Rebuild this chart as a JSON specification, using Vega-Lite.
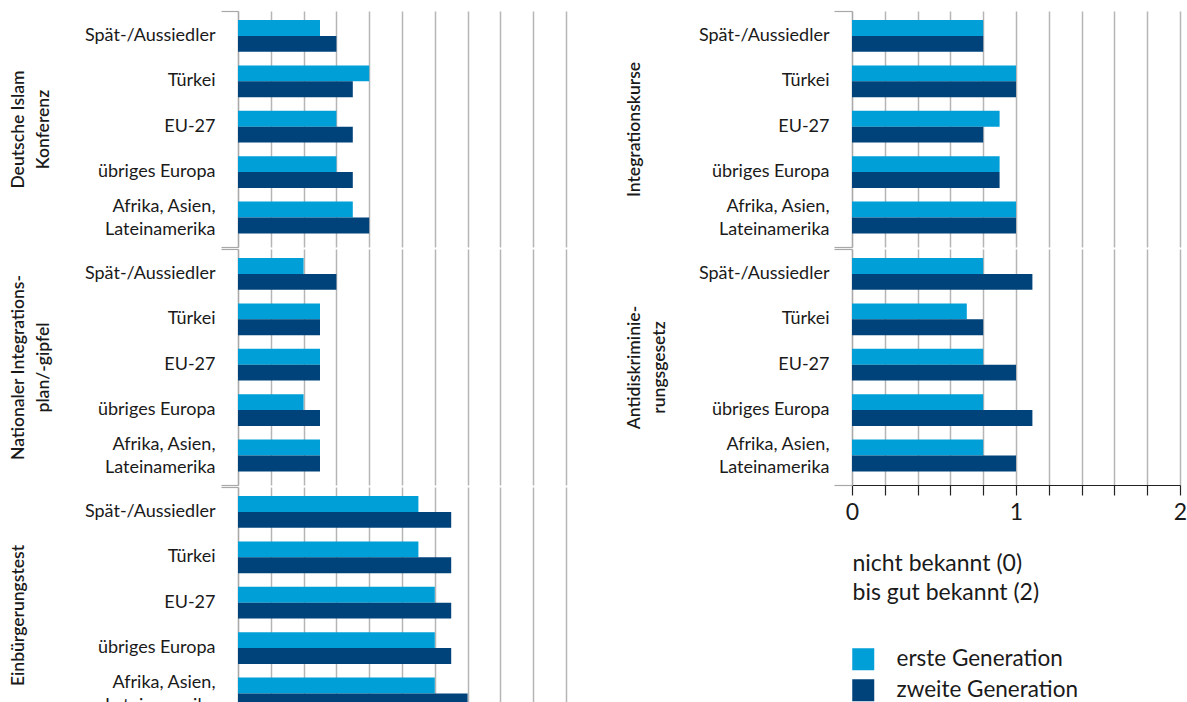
{
  "$schema": "https://vega.github.io/schema/vega-lite/v6.json",
  "padding": {"left": 9, "top": 10, "right": 0, "bottom": 0},
  "autosize": {"type": "pad"},
  "background": "white",
  "data": {"values": [
    {"group": "Deutsche Islam Konferenz", "origin": "Spät-/Aussiedler", "generation": "erste Generation", "value": 0.5},
    {"group": "Deutsche Islam Konferenz", "origin": "Spät-/Aussiedler", "generation": "zweite Generation", "value": 0.6},
    {"group": "Deutsche Islam Konferenz", "origin": "Türkei", "generation": "erste Generation", "value": 0.8},
    {"group": "Deutsche Islam Konferenz", "origin": "Türkei", "generation": "zweite Generation", "value": 0.7},
    {"group": "Deutsche Islam Konferenz", "origin": "EU-27", "generation": "erste Generation", "value": 0.6},
    {"group": "Deutsche Islam Konferenz", "origin": "EU-27", "generation": "zweite Generation", "value": 0.7},
    {"group": "Deutsche Islam Konferenz", "origin": "übriges Europa", "generation": "erste Generation", "value": 0.6},
    {"group": "Deutsche Islam Konferenz", "origin": "übriges Europa", "generation": "zweite Generation", "value": 0.7},
    {"group": "Deutsche Islam Konferenz", "origin": "Afrika, Asien, Lateinamerika", "generation": "erste Generation", "value": 0.7},
    {"group": "Deutsche Islam Konferenz", "origin": "Afrika, Asien, Lateinamerika", "generation": "zweite Generation", "value": 0.8},
    {"group": "Nationaler Integrationsplan/-gipfel", "origin": "Spät-/Aussiedler", "generation": "erste Generation", "value": 0.4},
    {"group": "Nationaler Integrationsplan/-gipfel", "origin": "Spät-/Aussiedler", "generation": "zweite Generation", "value": 0.6},
    {"group": "Nationaler Integrationsplan/-gipfel", "origin": "Türkei", "generation": "erste Generation", "value": 0.5},
    {"group": "Nationaler Integrationsplan/-gipfel", "origin": "Türkei", "generation": "zweite Generation", "value": 0.5},
    {"group": "Nationaler Integrationsplan/-gipfel", "origin": "EU-27", "generation": "erste Generation", "value": 0.5},
    {"group": "Nationaler Integrationsplan/-gipfel", "origin": "EU-27", "generation": "zweite Generation", "value": 0.5},
    {"group": "Nationaler Integrationsplan/-gipfel", "origin": "übriges Europa", "generation": "erste Generation", "value": 0.4},
    {"group": "Nationaler Integrationsplan/-gipfel", "origin": "übriges Europa", "generation": "zweite Generation", "value": 0.5},
    {"group": "Nationaler Integrationsplan/-gipfel", "origin": "Afrika, Asien, Lateinamerika", "generation": "erste Generation", "value": 0.5},
    {"group": "Nationaler Integrationsplan/-gipfel", "origin": "Afrika, Asien, Lateinamerika", "generation": "zweite Generation", "value": 0.5},
    {"group": "Einbürgerungstest", "origin": "Spät-/Aussiedler", "generation": "erste Generation", "value": 1.1},
    {"group": "Einbürgerungstest", "origin": "Spät-/Aussiedler", "generation": "zweite Generation", "value": 1.3},
    {"group": "Einbürgerungstest", "origin": "Türkei", "generation": "erste Generation", "value": 1.1},
    {"group": "Einbürgerungstest", "origin": "Türkei", "generation": "zweite Generation", "value": 1.3},
    {"group": "Einbürgerungstest", "origin": "EU-27", "generation": "erste Generation", "value": 1.2},
    {"group": "Einbürgerungstest", "origin": "EU-27", "generation": "zweite Generation", "value": 1.3},
    {"group": "Einbürgerungstest", "origin": "übriges Europa", "generation": "erste Generation", "value": 1.2},
    {"group": "Einbürgerungstest", "origin": "übriges Europa", "generation": "zweite Generation", "value": 1.3},
    {"group": "Einbürgerungstest", "origin": "Afrika, Asien, Lateinamerika", "generation": "erste Generation", "value": 1.2},
    {"group": "Einbürgerungstest", "origin": "Afrika, Asien, Lateinamerika", "generation": "zweite Generation", "value": 1.4},
    {"group": "Integrationskurse", "origin": "Spät-/Aussiedler", "generation": "erste Generation", "value": 0.8},
    {"group": "Integrationskurse", "origin": "Spät-/Aussiedler", "generation": "zweite Generation", "value": 0.8},
    {"group": "Integrationskurse", "origin": "Türkei", "generation": "erste Generation", "value": 1.0},
    {"group": "Integrationskurse", "origin": "Türkei", "generation": "zweite Generation", "value": 1.0},
    {"group": "Integrationskurse", "origin": "EU-27", "generation": "erste Generation", "value": 0.9},
    {"group": "Integrationskurse", "origin": "EU-27", "generation": "zweite Generation", "value": 0.8},
    {"group": "Integrationskurse", "origin": "übriges Europa", "generation": "erste Generation", "value": 0.9},
    {"group": "Integrationskurse", "origin": "übriges Europa", "generation": "zweite Generation", "value": 0.9},
    {"group": "Integrationskurse", "origin": "Afrika, Asien, Lateinamerika", "generation": "erste Generation", "value": 1.0},
    {"group": "Integrationskurse", "origin": "Afrika, Asien, Lateinamerika", "generation": "zweite Generation", "value": 1.0},
    {"group": "Antidiskriminierungsgesetz", "origin": "Spät-/Aussiedler", "generation": "erste Generation", "value": 0.8},
    {"group": "Antidiskriminierungsgesetz", "origin": "Spät-/Aussiedler", "generation": "zweite Generation", "value": 1.1},
    {"group": "Antidiskriminierungsgesetz", "origin": "Türkei", "generation": "erste Generation", "value": 0.7},
    {"group": "Antidiskriminierungsgesetz", "origin": "Türkei", "generation": "zweite Generation", "value": 0.8},
    {"group": "Antidiskriminierungsgesetz", "origin": "EU-27", "generation": "erste Generation", "value": 0.8},
    {"group": "Antidiskriminierungsgesetz", "origin": "EU-27", "generation": "zweite Generation", "value": 1.0},
    {"group": "Antidiskriminierungsgesetz", "origin": "übriges Europa", "generation": "erste Generation", "value": 0.8},
    {"group": "Antidiskriminierungsgesetz", "origin": "übriges Europa", "generation": "zweite Generation", "value": 1.1},
    {"group": "Antidiskriminierungsgesetz", "origin": "Afrika, Asien, Lateinamerika", "generation": "erste Generation", "value": 0.8},
    {"group": "Antidiskriminierungsgesetz", "origin": "Afrika, Asien, Lateinamerika", "generation": "zweite Generation", "value": 1.0}
  ]},
  "spacing": 59,
  "hconcat": [
    {
      "spacing": 0,
      "vconcat": [
        {
          "width": 328, "height": 236,
          "transform": [{"filter": "datum.group == 'Deutsche Islam Konferenz'"}],
          "layer": [
            {
              "mark": {"type": "bar"},
              "encoding": {
                "y": {"field": "origin", "type": "nominal", "sort": ["Spät-/Aussiedler", "Türkei", "EU-27", "übriges Europa", "Afrika, Asien, Lateinamerika"], "scale": {"paddingInner": 0.3, "paddingOuter": 0.25, "align": 0.4},
                  "axis": {"title": ["Deutsche Islam", "Konferenz"], "labelExpr": "datum.label == 'Afrika, Asien, Lateinamerika' ? ['Afrika, Asien,', 'Lateinamerika'] : datum.label", "labelOffset": {"condition": {"test": "datum.value == 'Afrika, Asien, Lateinamerika'", "value": -11}, "value": 0}, "ticks": false, "labelPadding": 23, "labelLineHeight": 23, "titleX": -229, "titleY": 118, "titleAngle": -90, "titleAlign": "center", "titleBaseline": "top", "titleLineHeight": 25}},
                "yOffset": {"field": "generation", "type": "nominal"},
                "x": {"field": "value", "type": "quantitative", "scale": {"domain": [0, 2]}, "axis": {"values": [0, 0.2, 0.4, 0.6, 0.8, 1, 1.2, 1.4, 1.6, 1.8, 2], "labels": false, "ticks": false, "domain": false, "title": null}},
                "color": {"field": "generation", "type": "nominal", "scale": {"domain": ["erste Generation", "zweite Generation"], "range": ["#009fd8", "#00437a"]},
                  "legend": {"orient": "none", "legendX": 614, "legendY": 637, "title": null, "symbolType": "square", "symbolSize": 484, "labelFontSize": 22.5, "labelOffset": 22, "labelLimit": 0, "rowPadding": 8, "symbolStrokeWidth": 0, "labelColor": "#1a1a1a", "padding": 0}}
              }
            },
            {
              "mark": {"type": "point", "opacity": 0},
              "encoding": {
                "y": {"field": "group", "type": "nominal", "scale": {"type": "band", "paddingInner": 0, "paddingOuter": 0},
                  "axis": {"orient": "left", "labels": false, "domain": false, "title": null, "tickBand": "extent", "tickSize": 17, "grid": false}}
              }
            }
          ],
          "resolve": {"scale": {"y": "independent"}, "axis": {"y": "independent"}}
        },
        {
          "width": 328, "height": 236,
          "transform": [{"filter": "datum.group == 'Nationaler Integrationsplan/-gipfel'"}],
          "layer": [
            {
              "mark": {"type": "bar"},
              "encoding": {
                "y": {"field": "origin", "type": "nominal", "sort": ["Spät-/Aussiedler", "Türkei", "EU-27", "übriges Europa", "Afrika, Asien, Lateinamerika"], "scale": {"paddingInner": 0.3, "paddingOuter": 0.25, "align": 0.4},
                  "axis": {"title": ["Nationaler Integrations-", "plan/-gipfel"], "labelExpr": "datum.label == 'Afrika, Asien, Lateinamerika' ? ['Afrika, Asien,', 'Lateinamerika'] : datum.label", "labelOffset": {"condition": {"test": "datum.value == 'Afrika, Asien, Lateinamerika'", "value": -11}, "value": 0}, "ticks": false, "labelPadding": 23, "labelLineHeight": 23, "titleX": -229, "titleY": 118, "titleAngle": -90, "titleAlign": "center", "titleBaseline": "top", "titleLineHeight": 25}},
                "yOffset": {"field": "generation", "type": "nominal"},
                "x": {"field": "value", "type": "quantitative", "scale": {"domain": [0, 2]}, "axis": {"values": [0, 0.2, 0.4, 0.6, 0.8, 1, 1.2, 1.4, 1.6, 1.8, 2], "labels": false, "ticks": false, "domain": false, "title": null}},
                "color": {"field": "generation", "type": "nominal", "scale": {"domain": ["erste Generation", "zweite Generation"], "range": ["#009fd8", "#00437a"]},
                  "legend": {"orient": "none", "legendX": 614, "legendY": 637, "title": null, "symbolType": "square", "symbolSize": 484, "labelFontSize": 22.5, "labelOffset": 22, "labelLimit": 0, "rowPadding": 8, "symbolStrokeWidth": 0, "labelColor": "#1a1a1a", "padding": 0}}
              }
            },
            {
              "mark": {"type": "point", "opacity": 0},
              "encoding": {
                "y": {"field": "group", "type": "nominal", "scale": {"type": "band", "paddingInner": 0, "paddingOuter": 0},
                  "axis": {"orient": "left", "labels": false, "domain": false, "title": null, "tickBand": "extent", "tickSize": 17, "grid": false}}
              }
            }
          ],
          "resolve": {"scale": {"y": "independent"}, "axis": {"y": "independent"}}
        },
        {
          "width": 328, "height": 236,
          "transform": [{"filter": "datum.group == 'Einbürgerungstest'"}],
          "layer": [
            {
              "mark": {"type": "bar"},
              "encoding": {
                "y": {"field": "origin", "type": "nominal", "sort": ["Spät-/Aussiedler", "Türkei", "EU-27", "übriges Europa", "Afrika, Asien, Lateinamerika"], "scale": {"paddingInner": 0.3, "paddingOuter": 0.25, "align": 0.4},
                  "axis": {"title": "Einbürgerungstest", "labelExpr": "datum.label == 'Afrika, Asien, Lateinamerika' ? ['Afrika, Asien,', 'Lateinamerika'] : datum.label", "labelOffset": {"condition": {"test": "datum.value == 'Afrika, Asien, Lateinamerika'", "value": -11}, "value": 0}, "ticks": false, "labelPadding": 23, "labelLineHeight": 23, "titleX": -229, "titleY": 128, "titleAngle": -90, "titleAlign": "center", "titleBaseline": "top", "titleLineHeight": 25}},
                "yOffset": {"field": "generation", "type": "nominal"},
                "x": {"field": "value", "type": "quantitative", "scale": {"domain": [0, 2]}, "axis": {"values": [0, 0.2, 0.4, 0.6, 0.8, 1, 1.2, 1.4, 1.6, 1.8, 2], "labels": false, "ticks": false, "domain": false, "title": null}},
                "color": {"field": "generation", "type": "nominal", "scale": {"domain": ["erste Generation", "zweite Generation"], "range": ["#009fd8", "#00437a"]},
                  "legend": {"orient": "none", "legendX": 614, "legendY": 637, "title": null, "symbolType": "square", "symbolSize": 484, "labelFontSize": 22.5, "labelOffset": 22, "labelLimit": 0, "rowPadding": 8, "symbolStrokeWidth": 0, "labelColor": "#1a1a1a", "padding": 0}}
              }
            },
            {
              "mark": {"type": "point", "opacity": 0},
              "encoding": {
                "y": {"field": "group", "type": "nominal", "scale": {"type": "band", "paddingInner": 0, "paddingOuter": 0},
                  "axis": {"orient": "left", "labels": false, "domain": false, "title": null, "tickBand": "extent", "tickSize": 17, "grid": false}}
              }
            }
          ],
          "resolve": {"scale": {"y": "independent"}, "axis": {"y": "independent"}}
        }
      ]
    },
    {
      "spacing": 0,
      "vconcat": [
        {
          "width": 328, "height": 236,
          "transform": [{"filter": "datum.group == 'Integrationskurse'"}],
          "layer": [
            {
              "mark": {"type": "bar"},
              "encoding": {
                "y": {"field": "origin", "type": "nominal", "sort": ["Spät-/Aussiedler", "Türkei", "EU-27", "übriges Europa", "Afrika, Asien, Lateinamerika"], "scale": {"paddingInner": 0.3, "paddingOuter": 0.25, "align": 0.4},
                  "axis": {"title": "Integrationskurse", "labelExpr": "datum.label == 'Afrika, Asien, Lateinamerika' ? ['Afrika, Asien,', 'Lateinamerika'] : datum.label", "labelOffset": {"condition": {"test": "datum.value == 'Afrika, Asien, Lateinamerika'", "value": -11}, "value": 0}, "ticks": false, "labelPadding": 23, "labelLineHeight": 23, "titleX": -227, "titleY": 118, "titleAngle": -90, "titleAlign": "center", "titleBaseline": "top", "titleLineHeight": 25}},
                "yOffset": {"field": "generation", "type": "nominal"},
                "x": {"field": "value", "type": "quantitative", "scale": {"domain": [0, 2]}, "axis": {"values": [0, 0.2, 0.4, 0.6, 0.8, 1, 1.2, 1.4, 1.6, 1.8, 2], "labels": false, "ticks": false, "domain": false, "title": null}},
                "color": {"field": "generation", "type": "nominal", "scale": {"domain": ["erste Generation", "zweite Generation"], "range": ["#009fd8", "#00437a"]},
                  "legend": {"orient": "none", "legendX": 614, "legendY": 637, "title": null, "symbolType": "square", "symbolSize": 484, "labelFontSize": 22.5, "labelOffset": 22, "labelLimit": 0, "rowPadding": 8, "symbolStrokeWidth": 0, "labelColor": "#1a1a1a", "padding": 0}}
              }
            },
            {
              "mark": {"type": "point", "opacity": 0},
              "encoding": {
                "y": {"field": "group", "type": "nominal", "scale": {"type": "band", "paddingInner": 0, "paddingOuter": 0},
                  "axis": {"orient": "left", "labels": false, "domain": false, "title": null, "tickBand": "extent", "tickSize": 18, "grid": false}}
              }
            }
          ],
          "resolve": {"scale": {"y": "independent"}, "axis": {"y": "independent"}}
        },
        {
          "width": 328, "height": 236,
          "transform": [{"filter": "datum.group == 'Antidiskriminierungsgesetz'"}],
          "layer": [
            {
              "mark": {"type": "bar"},
              "encoding": {
                "y": {"field": "origin", "type": "nominal", "sort": ["Spät-/Aussiedler", "Türkei", "EU-27", "übriges Europa", "Afrika, Asien, Lateinamerika"], "scale": {"paddingInner": 0.3, "paddingOuter": 0.25, "align": 0.4},
                  "axis": {"title": ["Antidiskriminie-", "rungsgesetz"], "labelExpr": "datum.label == 'Afrika, Asien, Lateinamerika' ? ['Afrika, Asien,', 'Lateinamerika'] : datum.label", "labelOffset": {"condition": {"test": "datum.value == 'Afrika, Asien, Lateinamerika'", "value": -11}, "value": 0}, "ticks": false, "labelPadding": 23, "labelLineHeight": 23, "titleX": -227, "titleY": 118, "titleAngle": -90, "titleAlign": "center", "titleBaseline": "top", "titleLineHeight": 25}},
                "yOffset": {"field": "generation", "type": "nominal"},
                "x": {"field": "value", "type": "quantitative", "scale": {"domain": [0, 2]},
                  "axis": {"values": [0, 0.2, 0.4, 0.6, 0.8, 1, 1.2, 1.4, 1.6, 1.8, 2], "labelExpr": "datum.value == 0 ? '0' : datum.value == 1 ? '1' : datum.value == 2 ? '2' : ''", "labels": true, "ticks": true, "tickSize": 10, "tickColor": "#222222", "tickWidth": 1.2, "domain": true, "domainColor": "#222222", "domainWidth": 1.2, "labelFontSize": 23, "labelPadding": 6, "labelColor": "#1a1a1a", "labelFlush": false,
                    "title": ["nicht bekannt (0)", "bis gut bekannt (2)"], "titleAnchor": "start", "titleAlign": "left", "titleX": 0, "titleY": 67, "titleBaseline": "top", "titleFontSize": 23, "titleFontWeight": "normal", "titleLineHeight": 29, "titleColor": "#1a1a1a"}},
                "color": {"field": "generation", "type": "nominal", "scale": {"domain": ["erste Generation", "zweite Generation"], "range": ["#009fd8", "#00437a"]},
                  "legend": {"orient": "none", "legendX": 614, "legendY": 637, "title": null, "symbolType": "square", "symbolSize": 484, "labelFontSize": 22.5, "labelOffset": 22, "labelLimit": 0, "rowPadding": 8, "symbolStrokeWidth": 0, "labelColor": "#1a1a1a", "padding": 0}}
              }
            },
            {
              "mark": {"type": "point", "opacity": 0},
              "encoding": {
                "y": {"field": "group", "type": "nominal", "scale": {"type": "band", "paddingInner": 0, "paddingOuter": 0},
                  "axis": {"orient": "left", "labels": false, "domain": false, "title": null, "tickBand": "extent", "tickSize": 18, "grid": false}}
              }
            }
          ],
          "resolve": {"scale": {"y": "independent"}, "axis": {"y": "independent"}}
        }
      ]
    }
  ],
  "config": {
    "font": "Lato",
    "view": {"stroke": null},
    "axis": {"labelFont": "Lato", "titleFont": "Lato", "labelColor": "#1a1a1a", "titleColor": "#1a1a1a"},
    "axisY": {"labelFontSize": 18, "titleFontSize": 17.5, "titleFontWeight": 600, "domainColor": "#a8a8a8", "domainWidth": 1.2, "tickColor": "#a8a8a8", "tickWidth": 1.2, "gridColor": "#b5b5b5"},
    "axisX": {"grid": true, "gridColor": "#b5b5b5", "gridWidth": 1.5},
    "legend": {"labelFont": "Lato"}
  }
}
